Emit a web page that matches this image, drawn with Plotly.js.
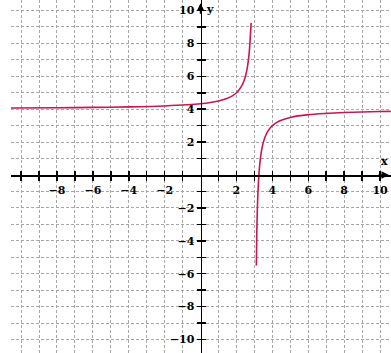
<!DOCTYPE html>
<html>
<head>
<meta charset="utf-8">
<script src="https://cdn.plot.ly/plotly-3.0.1.min.js"></script>
<style>
  html, body { margin: 0; padding: 0; background: #fff; }
  #myDiv { width: 391px; height: 353px; }
</style>
</head>
<body>
<div id="myDiv"></div>
<script>
// values
var leftX = [-10.6, -8, -6, -4, -2, 0, 1, 1.5, 1.75, 2, 2.15, 2.3, 2.4, 2.5, 2.6, 2.65, 2.7, 2.75, 2.78, 2.82];
var leftY = [4.07, 4.09, 4.11, 4.14, 4.2, 4.33, 4.5, 4.67, 4.8, 5.0, 5.18, 5.43, 5.67, 6.0, 6.5, 6.86, 7.3, 8.0, 8.55, 9.25];

var rightX = [3.11, 3.13, 3.15, 3.17, 3.2, 3.25, 3.3, 3.4, 3.5, 3.6, 3.75, 3.9, 4, 4.25, 4.5, 5, 6, 7, 8, 9, 10, 10.6];
var rightY = [-5.5, -3.7, -2.7, -1.9, -1.0, 0, 0.67, 1.5, 2.0, 2.33, 2.67, 2.89, 3.0, 3.2, 3.33, 3.5, 3.67, 3.75, 3.8, 3.83, 3.86, 3.87];

var xTickVals = [-10, -9, -8, -7, -6, -5, -4, -3, -2, -1, 1, 2, 3, 4, 5, 6, 7, 8, 9, 10];
var xTickText = ['', '', '−8', '', '−6', '', '−4', '', '−2', '', '', '2', '', '4', '', '6', '', '8', '', '10'];
var yTickVals = [-10, -9, -8, -7, -6, -5, -4, -3, -2, -1, 1, 2, 3, 4, 5, 6, 7, 8, 9, 10];
var yTickText = ['−10', '', '−8', '', '−6', '', '−4', '', '−2', '', '', '2', '', '4', '', '6', '', '8', '', '10'];

var curveColor = '#c8174f';
var xRange = [-10.56, 10.61];
var yRange = [-10.82, 10.64];
var xZeroPos = (0 - xRange[0]) / (xRange[1] - xRange[0]);
var yZeroPos = (0 - yRange[0]) / (yRange[1] - yRange[0]);

var labelFont = {family: 'DejaVu Serif', size: 11, color: '#000', weight: 'bold'};

var data = [
  {x: leftX, y: leftY, mode: 'lines', type: 'scatter',
   line: {color: curveColor, width: 1.6, shape: 'spline', smoothing: 0.8}, hoverinfo: 'skip'},
  {x: rightX, y: rightY, mode: 'lines', type: 'scatter',
   line: {color: curveColor, width: 1.6, shape: 'spline', smoothing: 0.8}, hoverinfo: 'skip'},
  // empty trace so the overlay axes (inner tick halves) get drawn
  {x: [null], y: [null], xaxis: 'x2', yaxis: 'y2', mode: 'lines', hoverinfo: 'skip'}
];

var baseAxis = {
  showline: true, linecolor: '#000', linewidth: 1.5,
  zeroline: false, showgrid: true,
  gridcolor: '#a8a8a8', gridwidth: 1, griddash: '3px,2px',
  tickmode: 'array', ticks: 'outside', ticklen: 4, tickwidth: 1.5, tickcolor: '#000',
  tickfont: labelFont, fixedrange: true, anchor: 'free'
};

var layout = {
  width: 391, height: 353,
  margin: {l: 11, r: 0, t: 0, b: 0},
  paper_bgcolor: '#fff', plot_bgcolor: '#fff',
  showlegend: false,
  xaxis: Object.assign({}, baseAxis, {
    range: xRange, position: yZeroPos,
    tickvals: xTickVals, ticktext: xTickText
  }),
  yaxis: Object.assign({}, baseAxis, {
    range: yRange, position: xZeroPos,
    tickvals: yTickVals, ticktext: yTickText
  }),
  xaxis2: {
    overlaying: 'x', anchor: 'free', position: yZeroPos, range: xRange,
    showgrid: false, zeroline: false, showline: false,
    tickmode: 'array', tickvals: xTickVals, showticklabels: false,
    ticks: 'inside', ticklen: 4, tickwidth: 1.5, tickcolor: '#000', fixedrange: true
  },
  yaxis2: {
    overlaying: 'y', anchor: 'free', position: xZeroPos, range: yRange,
    showgrid: false, zeroline: false, showline: false,
    tickmode: 'array', tickvals: yTickVals, showticklabels: false,
    ticks: 'inside', ticklen: 4, tickwidth: 1.5, tickcolor: '#000', fixedrange: true
  },
  annotations: [
    {x: 0, y: 10.45, xref: 'x', yref: 'y', showarrow: true, text: '',
     ax: 0, ay: 12, arrowhead: 2, arrowsize: 1, arrowwidth: 1.5, arrowcolor: '#000'},
    {x: 10.5, y: 0, xref: 'x', yref: 'y', showarrow: true, text: '',
     ax: -12, ay: 0, arrowhead: 2, arrowsize: 1, arrowwidth: 1.5, arrowcolor: '#000'},
    {x: 0.5, y: 10.05, xref: 'x', yref: 'y', showarrow: false, text: 'y', font: labelFont},
    {x: 10.25, y: 0.8, xref: 'x', yref: 'y', showarrow: false, text: 'x', font: labelFont}
  ]
};

Plotly.newPlot('myDiv', data, layout, {staticPlot: true, displayModeBar: false});
</script>
</body>
</html>
